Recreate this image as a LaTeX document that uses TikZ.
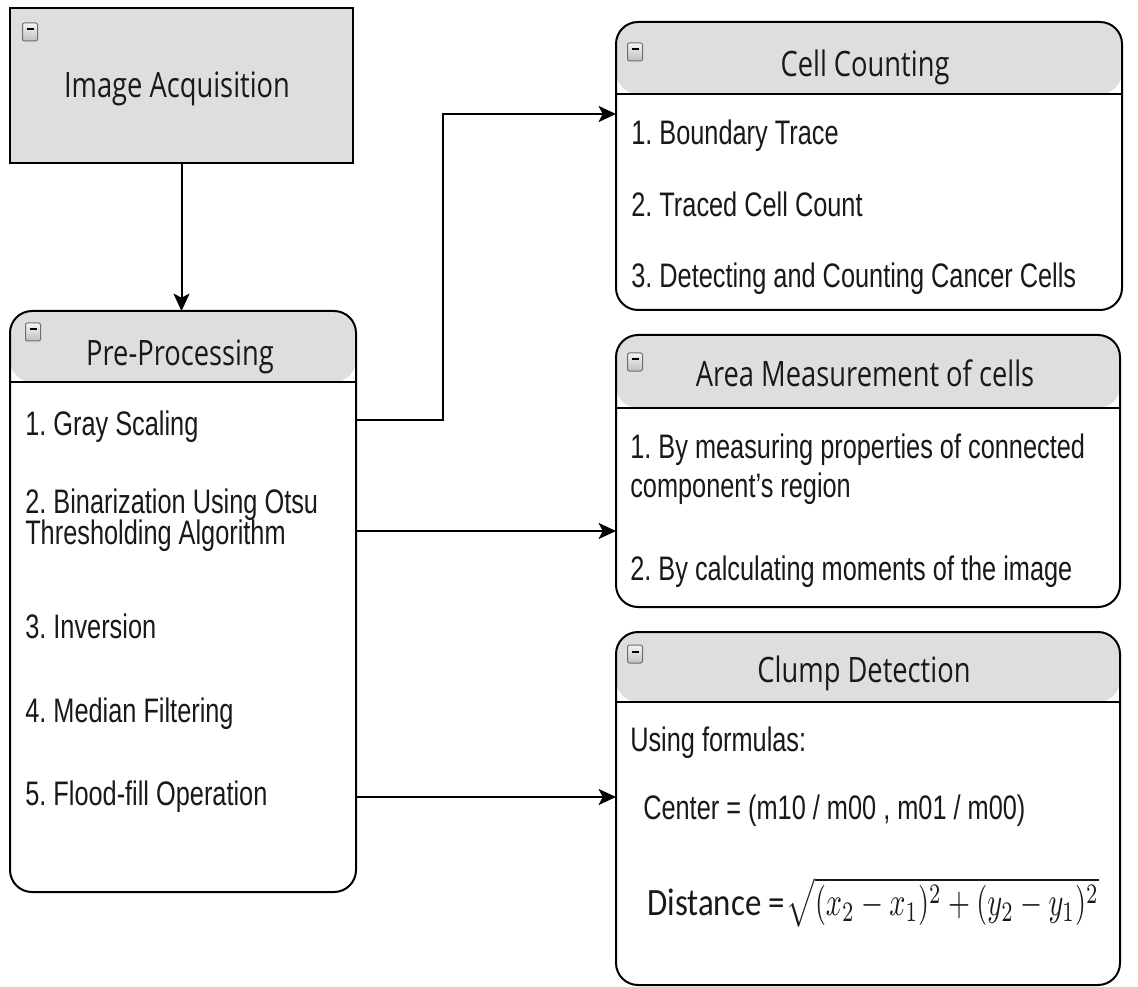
\documentclass[tikz,border=0pt]{standalone}
\usepackage{fontspec}
\setmainfont{Liberation Sans}
\newfontfamily\headfont[FakeStretch=0.78]{Open Sans}
\newfontfamily\itemfont[FakeStretch=0.745]{Liberation Sans}
\newfontfamily\calfont[FakeStretch=0.85]{Carlito}
\usetikzlibrary{arrows.meta}
\newlength{\px}\setlength{\px}{0.75pt}
\definecolor{headgray}{RGB}{222,222,222}
\definecolor{iconedge}{RGB}{110,110,110}
\definecolor{ink}{RGB}{25,25,25}

\tikzset{
  card/.style={draw=black, line width=2\px, rounded corners=22\px,
    inner sep=0pt, outer sep=0pt, fill=white,
    path picture={
      \fill[headgray] (path picture bounding box.north west)
        rectangle ([yshift=-#1]path picture bounding box.north east);
      \draw[line width=2\px] ([yshift=-#1]path picture bounding box.north west)
        -- ([yshift=-#1]path picture bounding box.north east);
    }},
  plainbox/.style={draw=black, line width=2.8\px, fill=headgray,
    inner sep=0pt, outer sep=0pt},
  headtext/.style={font=\headfont\fontsize{26.25}{30}\selectfont,
    text=ink, anchor=base, inner sep=0pt},
  itemtext/.style={font=\itemfont\frenchspacing\fontsize{25.5}{30}\selectfont,
    text=ink, anchor=base west, inner sep=0pt},
  flow/.style={line width=1.5pt,
    -{Stealth[length=13pt, width=12pt, inset=3pt]}},
  minusicon/.style={rectangle, rounded corners=2\px, inner sep=0pt,
    minimum width=15\px, minimum height=18\px,
    top color=gray!8, bottom color=gray!50, draw=iconedge,
    line width=1\px,
    path picture={
      \draw[line width=2\px, black]
        ([shift={(-3.5,-2.5)}]path picture bounding box.center)
        -- ([shift={(3.5,-2.5)}]path picture bounding box.center);
    }},
}

\begin{document}
\begin{tikzpicture}[x=0.75pt, y=-0.75pt]
\useasboundingbox (0,0) rectangle (1138,987);

% ---------- boxes ----------
\node[plainbox, minimum width=343\px, minimum height=155\px] (acq) at (181.5,85.5) {};
\node[card=71\px, minimum width=346\px, minimum height=581\px] (pre) at (183,601.5) {};
\node[card=72\px, minimum width=506\px, minimum height=288\px] (cell) at (869,166) {};
\node[card=73\px, minimum width=504\px, minimum height=272\px] (area) at (868,471) {};
\node[card=70\px, minimum width=504\px, minimum height=353\px] (clump) at (868,808.5) {};

% ---------- collapse icons ----------
\node[minusicon] (acqicon) at (30,32) {};
\node[minusicon] (preicon) at (33,332) {};
\node[minusicon] (cellicon) at (635,52) {};
\node[minusicon] (areaicon) at (635,362) {};
\node[minusicon] (clumpicon) at (635,654) {};

% ---------- titles ----------
\node[headtext] (acqtitle) at (177,98) {Image Acquisition};
\node[headtext] (pretitle) at (180,365) {Pre-Processing};
\node[headtext] (celltitle) at (865,77) {Cell Counting};
\node[headtext] (areatitle) at (865,387) {Area Measurement of cells};
\node[headtext] (clumptitle) at (864,682) {Clump Detection};

% ---------- pre-processing steps ----------
\node[itemtext] (p1) at (25,435) {1. Gray Scaling};
\node[itemtext] (p2) at (25,513) {2. Binarization Using Otsu};
\node[itemtext] (p2b) at (25,544) {Thresholding Algorithm};
\node[itemtext] (p3) at (25,638) {3. Inversion};
\node[itemtext] (p4) at (25,722) {4. Median Filtering};
\node[itemtext] (p5) at (25,805) {5. Flood-fill Operation};

% ---------- cell counting steps ----------
\node[itemtext] (c1) at (631,145) {1. Boundary Trace};
\node[itemtext] (c2) at (631,217) {2. Traced Cell Count};
\node[itemtext] (c3) at (631,288) {3. Detecting and Counting Cancer Cells};

% ---------- area measurement steps ----------
\node[itemtext] (a1) at (630,458) {1. By measuring properties of connected};
\node[itemtext] (a1b) at (630,497) {component’s region};
\node[itemtext] (a2) at (630,580) {2. By calculating moments of the image};

% ---------- clump detection ----------
\node[itemtext] (u1) at (630,751) {Using formulas:};
\node[itemtext] (u2) at (643,819) {Center = (m10 / m00 , m01 / m00)};
\node[anchor=base west, inner sep=0pt, text=ink,
  font=\calfont\fontsize{29}{32}\selectfont] (u3) at (647,915) {Distance =};
\node[anchor=base west, inner sep=0pt, text=ink] (u3m) at ([xshift=1\px]u3.base east)
  {\resizebox*{312\px}{50\px}{$\sqrt{(x_2-x_1)^2+(y_2-y_1)^2}$}};

% ---------- connectors ----------
\coordinate (lv1) at (0,420);
\coordinate (bend) at (443,114);
\coordinate (lv2) at (0,531);
\coordinate (lv3) at (0,797);

\draw[flow] (acq.south) -- (acq.south |- pre.north);
\draw[flow] (pre.east |- lv1) -| (bend) -- (cell.west |- bend);
\draw[flow] (pre.east |- lv2) -- (area.west |- lv2);
\draw[flow] (pre.east |- lv3) -- (clump.west |- lv3);
\end{tikzpicture}
\end{document}
